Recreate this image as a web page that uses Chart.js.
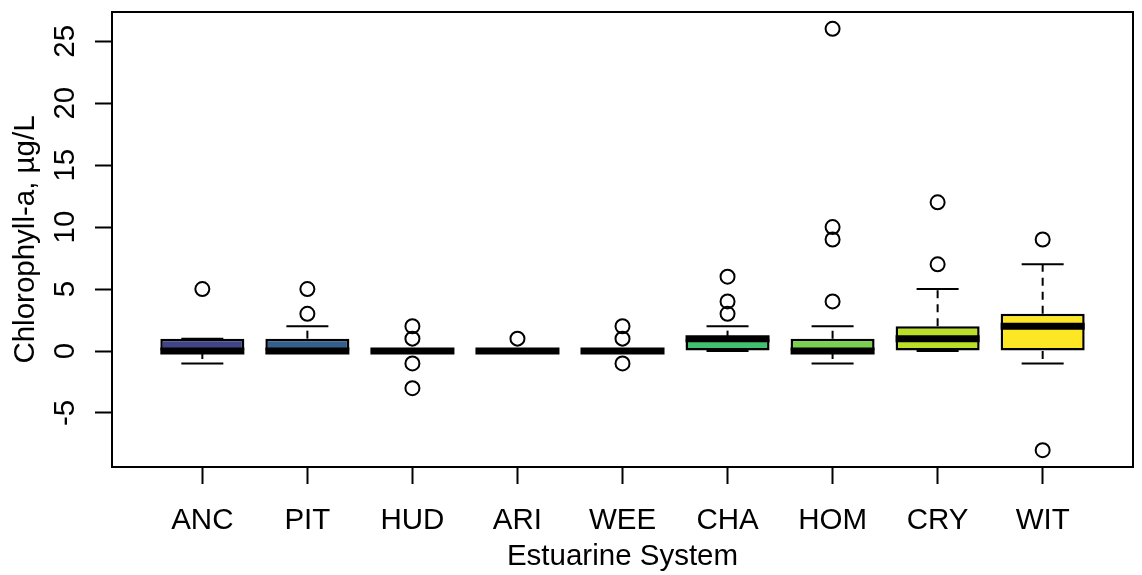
<!DOCTYPE html>
<html>
<head>
<meta charset="utf-8">
<script src="https://cdn.jsdelivr.net/npm/chart.js@4/dist/chart.umd.min.js"></script>
<style>
  body { margin: 0; background: #fff; }
  canvas { display: block; }
</style>
</head>
<body>
<canvas id="grafico" width="1142" height="575"></canvas>
<script>
// DADOS
const categorias = ["ANC", "PIT", "HUD", "ARI", "WEE", "CHA", "HOM", "CRY", "WIT"];
const q1 = [0, 0, 0, 0, 0, 0, 0, 0, 0];
const q3 = [1, 1, 0, 0, 0, 1, 1, 2, 3];
const medianas = [0, 0, 0, 0, 0, 1, 0, 1, 2];
const bigodeMin = [-1, 0, 0, 0, 0, 0, -1, 0, -1];
const bigodeMax = [1, 2, 0, 0, 0, 2, 2, 5, 7];
const outliers = [[5], [3, 5], [2, 1, -1, -3], [1], [2, 1, -1], [3, 4, 6], [4, 9, 10, 26], [7, 12], [9, -8]];
const yTicks = [-5, 0, 5, 10, 15, 20, 25];
const cores = ["#414487", "#35608D", "#2A788E", "#21908C", "#22A884", "#43BF71", "#7AD151", "#BBDF27", "#FDE725"];

const FONTE = "'Liberation Sans', Arial, sans-serif";

// caixas (q1 -> q3)
const caixas = categorias.map((c, i) => ({ x: i + 1, y: [q1[i], q3[i]] }));

// pontos fora
const pontos = [];
outliers.forEach((lista, i) => {
    lista.forEach(v => pontos.push({ x: i + 1, y: v }));
});

// MOLDURA + BIGODES + MEDIANAS
const boxplotPlugin = {
    id: "boxplotExtras",
    afterDatasetsDraw(chart) {
        const ctx = chart.ctx;
        const xs = chart.scales.x;
        const ys = chart.scales.y;
        const passo = xs.getPixelForValue(2) - xs.getPixelForValue(1);
        const meia = passo * 0.4;
        const grampo = meia / 2;

        ctx.save();
        ctx.strokeStyle = "#000";

        categorias.forEach((c, i) => {
            const x = xs.getPixelForValue(i + 1);
            const yQ1 = ys.getPixelForValue(q1[i]);
            const yQ3 = ys.getPixelForValue(q3[i]);
            const yMin = ys.getPixelForValue(bigodeMin[i]);
            const yMax = ys.getPixelForValue(bigodeMax[i]);

            // linhas tracejadas
            ctx.lineWidth = 2;
            ctx.setLineDash([8, 6]);
            ctx.beginPath();
            ctx.moveTo(x, yQ3);
            ctx.lineTo(x, yMax);
            ctx.moveTo(x, yQ1);
            ctx.lineTo(x, yMin);
            ctx.stroke();

            // grampos
            ctx.setLineDash([]);
            ctx.beginPath();
            ctx.moveTo(x - grampo, yMax);
            ctx.lineTo(x + grampo, yMax);
            ctx.moveTo(x - grampo, yMin);
            ctx.lineTo(x + grampo, yMin);
            ctx.stroke();

            // mediana
            ctx.lineWidth = 7;
            ctx.beginPath();
            ctx.moveTo(x - meia, ys.getPixelForValue(medianas[i]));
            ctx.lineTo(x + meia, ys.getPixelForValue(medianas[i]));
            ctx.stroke();
        });

        // moldura
        const a = chart.chartArea;
        ctx.lineWidth = 2;
        ctx.strokeRect(a.left, a.top, a.right - a.left, a.bottom - a.top);
        ctx.restore();
    }
};

// GRAFICO
function criarGrafico() {
    const ctx = document.getElementById("grafico");

    new Chart(ctx, {
        type: "bar",
        data: {
            datasets: [
                {
                    type: "bar",
                    data: caixas,
                    backgroundColor: cores,
                    borderColor: "#000",
                    borderWidth: 2.5,
                    borderSkipped: false,
                    categoryPercentage: 1,
                    barPercentage: 0.8
                },
                {
                    type: "scatter",
                    data: pontos,
                    pointRadius: 7,
                    pointBorderWidth: 2,
                    pointBackgroundColor: "rgba(0,0,0,0)",
                    pointBorderColor: "#000"
                }
            ]
        },
        options: {
            responsive: false,
            animation: false,
            layout: { padding: { top: 12, right: 5, left: 0, bottom: 0 } },
            plugins: {
                legend: { display: false },
                tooltip: { enabled: false }
            },
            scales: {
                x: {
                    type: "linear",
                    offset: false,
                    min: 0.14,
                    max: 9.86,
                    afterBuildTicks: s => { s.ticks = categorias.map((c, i) => ({ value: i + 1 })); },
                    afterFit: s => { s.height = 108; s.paddingLeft = 0; s.paddingRight = 0; },
                    border: { display: false },
                    grid: {
                        offset: false,
                        drawOnChartArea: false,
                        tickLength: 17,
                        tickWidth: 2,
                        tickColor: "#000"
                    },
                    ticks: {
                        autoSkip: false,
                        maxRotation: 0,
                        padding: 19,
                        color: "#000",
                        font: { family: FONTE, size: 29.5 },
                        callback: v => categorias[v - 1]
                    },
                    title: {
                        display: true,
                        text: "Estuarine System",
                        color: "#000",
                        font: { family: FONTE, size: 29.5 },
                        padding: { top: 0, bottom: 0 }
                    }
                },
                y: {
                    min: -9.36,
                    max: 27.36,
                    afterBuildTicks: s => { s.ticks = yTicks.map(v => ({ value: v })); },
                    afterFit: s => { s.width = 112; s.paddingTop = 0; s.paddingBottom = 0; },
                    border: { display: false },
                    grid: {
                        drawOnChartArea: false,
                        tickLength: 17,
                        tickWidth: 2,
                        tickColor: "#000"
                    },
                    ticks: {
                        minRotation: 90,
                        maxRotation: 90,
                        crossAlign: "center",
                        padding: 13,
                        color: "#000",
                        font: { family: FONTE, size: 29.5 }
                    },
                    title: {
                        display: true,
                        text: "Chlorophyll-a, µg/L",
                        color: "#000",
                        font: { family: FONTE, size: 29.5 },
                        padding: { top: 8, bottom: 0 }
                    }
                }
            }
        },
        plugins: [boxplotPlugin]
    });
}

criarGrafico();
</script>
</body>
</html>
